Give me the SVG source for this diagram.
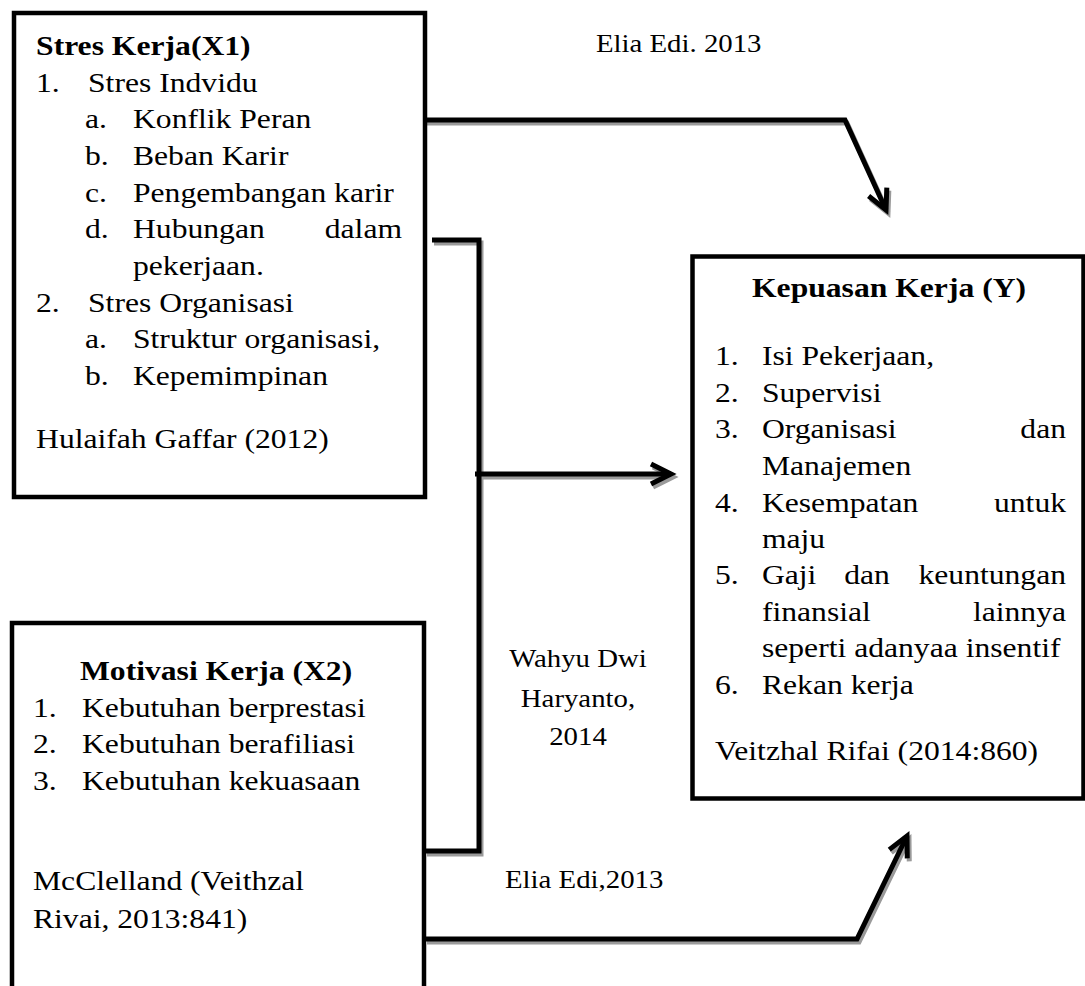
<svg xmlns="http://www.w3.org/2000/svg" width="1085" height="986" viewBox="0 0 1085 986">
<style>
.box{fill:#fff;stroke:#000;stroke-width:4.5}
.t{font-family:"Liberation Serif","Times New Roman",serif;font-size:28px;fill:#000}
.b{font-weight:bold}
.lbl{font-family:"Liberation Serif","Times New Roman",serif;font-size:25.5px;fill:#000}
.e{text-anchor:end}
.m{text-anchor:middle}
.ln{fill:none;stroke:#000;stroke-width:5;stroke-linejoin:miter}
.sh{fill:none;stroke:#9a9a9a;stroke-width:5;stroke-linejoin:miter}
</style>
<defs>
<marker id="ah" markerUnits="userSpaceOnUse" markerWidth="30" markerHeight="30" refX="22" refY="12" orient="auto" overflow="visible">
<path d="M2,2 L22,12 L2,22" fill="none" stroke="#000" stroke-width="5"/>
</marker>
<marker id="ahs" markerUnits="userSpaceOnUse" markerWidth="30" markerHeight="30" refX="22" refY="12" orient="auto" overflow="visible">
<path d="M2,2 L22,12 L2,22" fill="none" stroke="#9a9a9a" stroke-width="5"/>
</marker>
</defs>
<rect width="1085" height="986" fill="#fff"/>

<g id="connectors">
<g transform="translate(2,3)">
<path class="sh" d="M425,120 L845,120 L886,210" marker-end="url(#ahs)"/>
<path class="sh" d="M432,240 L479,240 L479,851 L425,851"/>
<path class="sh" d="M475,474 L671,474" marker-end="url(#ahs)"/>
<path class="sh" d="M425,939 L857,939 L907,836" marker-end="url(#ahs)"/>
</g>
<path class="ln" d="M425,120 L845,120 L886,210" marker-end="url(#ah)"/>
<path class="ln" d="M432,240 L479,240 L479,851 L425,851"/>
<path class="ln" d="M475,474 L671,474" marker-end="url(#ah)"/>
<path class="ln" d="M425,939 L857,939 L907,836" marker-end="url(#ah)"/>
</g>

<g id="node-stres">
<rect class="box" x="14" y="13" width="411" height="484"/>
<g transform="scale(1.13,1)">
<text class="t b" x="31.9" y="55">Stres Kerja(X1)</text>
<text class="t" x="31.9" y="92">1.</text><text class="t" x="77.9" y="92">Stres Indvidu</text>
<text class="t" x="75.2" y="128">a.</text><text class="t" x="117.7" y="128">Konflik Peran</text>
<text class="t" x="75.2" y="165">b.</text><text class="t" x="117.7" y="165">Beban Karir</text>
<text class="t" x="75.2" y="202">c.</text><text class="t" x="117.7" y="202">Pengembangan karir</text>
<text class="t" x="75.2" y="238">d.</text><text class="t" x="117.7" y="238">Hubungan</text><text class="t e" x="355.8" y="238">dalam</text>
<text class="t" x="117.7" y="275">pekerjaan.</text>
<text class="t" x="31.9" y="312">2.</text><text class="t" x="77.9" y="312">Stres Organisasi</text>
<text class="t" x="75.2" y="348">a.</text><text class="t" x="117.7" y="348">Struktur organisasi,</text>
<text class="t" x="75.2" y="385">b.</text><text class="t" x="117.7" y="385">Kepemimpinan</text>
<text class="t" x="31.9" y="448">Hulaifah Gaffar (2012)</text>
</g>
</g>

<g id="node-kepuasan">
<rect class="box" x="692.5" y="256.5" width="391" height="542"/>
<g transform="scale(1.13,1)">
<text class="t b" x="665.5" y="297">Kepuasan Kerja (Y)</text>
<text class="t" x="632.7" y="365">1.</text><text class="t" x="674.3" y="365">Isi Pekerjaan,</text>
<text class="t" x="632.7" y="402">2.</text><text class="t" x="674.3" y="402">Supervisi</text>
<text class="t" x="632.7" y="438">3.</text><text class="t" x="674.3" y="438">Organisasi</text><text class="t e" x="943.4" y="438">dan</text>
<text class="t" x="674.3" y="475">Manajemen</text>
<text class="t" x="632.7" y="512">4.</text><text class="t" x="674.3" y="512">Kesempatan</text><text class="t e" x="943.4" y="512">untuk</text>
<text class="t" x="674.3" y="548">maju</text>
<text class="t" x="632.7" y="584">5.</text><text class="t" x="674.3" y="584">Gaji</text><text class="t m" x="767.3" y="584">dan</text><text class="t e" x="943.4" y="584">keuntungan</text>
<text class="t" x="674.3" y="621">finansial</text><text class="t e" x="943.4" y="621">lainnya</text>
<text class="t" x="674.3" y="657">seperti adanyaa insentif</text>
<text class="t" x="632.7" y="694">6.</text><text class="t" x="674.3" y="694">Rekan kerja</text>
<text class="t" x="632.7" y="760">Veitzhal Rifai (2014:860)</text>
</g>
</g>

<g id="node-motivasi">
<rect class="box" x="12" y="623" width="412" height="400"/>
<g transform="scale(1.13,1)">
<text class="t b" x="70.8" y="680">Motivasi Kerja (X2)</text>
<text class="t" x="29.2" y="717">1.</text><text class="t" x="72.6" y="717">Kebutuhan berprestasi</text>
<text class="t" x="29.2" y="753">2.</text><text class="t" x="72.6" y="753">Kebutuhan berafiliasi</text>
<text class="t" x="29.2" y="790">3.</text><text class="t" x="72.6" y="790">Kebutuhan kekuasaan</text>
<text class="t" x="29.2" y="890">McClelland</text><text class="t" x="168.1" y="890">(Veithzal</text>
<text class="t" x="29.2" y="928">Rivai, 2013:841)</text>
</g>
</g>

<g id="labels" transform="scale(1.13,1)">
<text class="lbl" x="527.4" y="52">Elia Edi. 2013</text>
<text class="lbl m" x="511.5" y="667">Wahyu Dwi</text>
<text class="lbl m" x="511.5" y="707">Haryanto,</text>
<text class="lbl m" x="511.5" y="745">2014</text>
<text class="lbl" x="446.9" y="888">Elia Edi,2013</text>
</g>
</svg>
